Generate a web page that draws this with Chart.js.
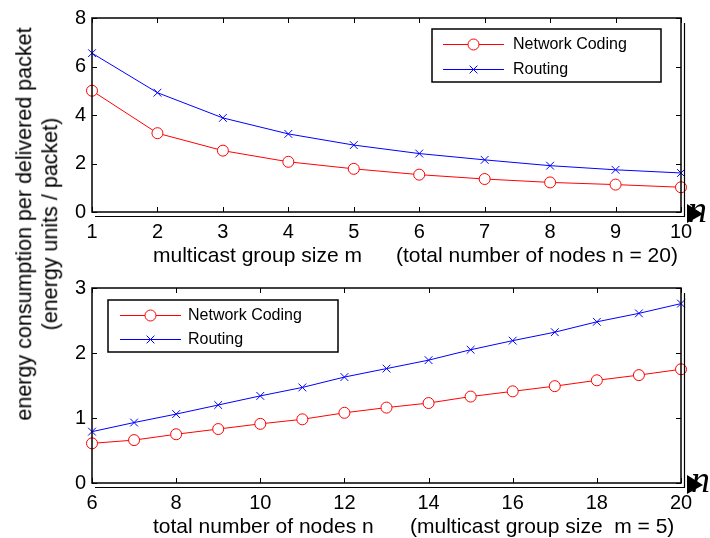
<!DOCTYPE html>
<html>
<head>
<meta charset="utf-8">
<script src="https://cdn.jsdelivr.net/npm/chart.js@4/dist/chart.umd.min.js"></script>
<style>
  html, body { margin: 0; padding: 0; background: #fff; }
  body { width: 710px; height: 538px; position: relative; overflow: hidden;
         font-family: "Liberation Sans", Arial, Helvetica, sans-serif; color: #000; }
  canvas { position: absolute; left: 0; }
  #c1 { top: 0; }
  #c2 { top: 270px; }
  .t { position: absolute; font-size: 21px; white-space: nowrap; line-height: 1; }
  .ylab { position: absolute; font-size: 21.5px; white-space: nowrap; text-align: center; line-height: 1.2;
          left: 38px; top: 224px; transform: translate(-50%, -50%) rotate(-90deg); }
  .nn { position: absolute; font-family: "Liberation Serif", "DejaVu Serif", serif; font-style: italic;
        font-size: 38px; line-height: 1; }
</style>
</head>
<body>
<canvas id="c1" width="710" height="270"></canvas>
<canvas id="c2" width="710" height="268"></canvas>

<div class="ylab">energy consumption per delivered packet<br>(energy units / packet)</div>
<div class="t" style="left:153px; top:244px;">multicast group size m</div>
<div class="t" style="left:396px; top:244px;">(total number of nodes n = 20)</div>
<div class="t" style="left:153px; top:515px;">total number of nodes n</div>
<div class="t" style="left:410px; top:515px;">(multicast group size&nbsp; m = 5)</div>
<div class="nn" style="left:688px; top:190px;">n</div>
<div class="nn" style="left:691px; top:460px;">n</div>

<script>
// ---- data: top plot (vs multicast group size m, n = 20)
const groupSizes = [1, 2, 3, 4, 5, 6, 7, 8, 9, 10];
const ncVsM      = [5.0, 3.25, 2.53, 2.07, 1.78, 1.54, 1.36, 1.22, 1.13, 1.02];
const routVsM    = [6.55, 4.92, 3.88, 3.22, 2.76, 2.41, 2.15, 1.91, 1.74, 1.61];
const yTicksTop  = [0, 2, 4, 6, 8];

// ---- data: bottom plot (vs total number of nodes n, m = 5)
const nodeCounts = [6, 7, 8, 9, 10, 11, 12, 13, 14, 15, 16, 17, 18, 19, 20];
const ncVsN      = [0.61, 0.66, 0.75, 0.83, 0.91, 0.98, 1.08, 1.16, 1.23, 1.33, 1.41, 1.49, 1.58, 1.66, 1.75];
const routVsN    = [0.79, 0.93, 1.06, 1.20, 1.34, 1.47, 1.63, 1.76, 1.89, 2.05, 2.19, 2.32, 2.48, 2.61, 2.76];
const yTicksBot  = [0, 1, 2, 3];

const seriesNames = ['Network Coding', 'Routing'];

const RED = '#ff0000', BLUE = '#0000ff';
const FONT = '"Liberation Sans", Arial, Helvetica, sans-serif';

function pts(xs, ys) { return xs.map((x, i) => ({ x: x, y: ys[i] })); }

function makeDatasets(xs, nc, rt) {
  return [
    { label: seriesNames[0], data: pts(xs, nc), borderColor: RED, backgroundColor: RED,
      borderWidth: 1, pointStyle: 'circle', pointRadius: 5.5, pointBorderWidth: 1,
      pointBackgroundColor: '#fff', pointBorderColor: RED, tension: 0, clip: false },
    { label: seriesNames[1], data: pts(xs, rt), borderColor: BLUE, backgroundColor: BLUE,
      borderWidth: 1, pointStyle: 'crossRot', pointRadius: 5.5, pointBorderWidth: 1,
      pointBackgroundColor: BLUE, pointBorderColor: BLUE, tension: 0, clip: false }
  ];
}

// frame, inward ticks and the extra decoration lines / arrow
const framePlugin = {
  id: 'frame',
  afterDraw(chart) {
    const ctx = chart.ctx, a = chart.chartArea;
    const xs = chart.scales.x, ys = chart.scales.y;
    ctx.save();
    ctx.strokeStyle = '#000';
    ctx.lineWidth = 1.5;
    ctx.strokeRect(a.left, a.top, a.right - a.left, a.bottom - a.top);
    ctx.lineWidth = 1;
    const L = 5;
    ctx.beginPath();
    xs.ticks.forEach(t => {
      const px = Math.round(xs.getPixelForValue(t.value)) + 0.5;
      ctx.moveTo(px, a.bottom); ctx.lineTo(px, a.bottom - L);
      ctx.moveTo(px, a.top); ctx.lineTo(px, a.top + L);
    });
    ys.ticks.forEach(t => {
      const py = Math.round(ys.getPixelForValue(t.value)) + 0.5;
      ctx.moveTo(a.left, py); ctx.lineTo(a.left + L, py);
      ctx.moveTo(a.right, py); ctx.lineTo(a.right - L, py);
    });
    ctx.stroke();
    // second (offset) lines
    ctx.lineWidth = 1.2;
    ctx.beginPath();
    ctx.moveTo(a.left + 3, a.bottom + 4.5); ctx.lineTo(a.right + 4, a.bottom + 4.5);
    ctx.moveTo(a.right + 3.5, a.top + 5); ctx.lineTo(a.right + 3.5, a.bottom + 4.5);
    ctx.stroke();
    // arrow head
    ctx.fillStyle = '#000';
    ctx.beginPath();
    ctx.moveTo(a.right + 6, a.bottom - 8);
    ctx.lineTo(a.right + 22, a.bottom + 2);
    ctx.lineTo(a.right + 6, a.bottom + 11);
    ctx.closePath();
    ctx.fill();
    ctx.restore();
  }
};

// boxed legend with line + marker samples
const boxLegendPlugin = {
  id: 'boxLegend',
  afterDraw(chart, args, o) {
    if (!o || !o.box) return;
    const ctx = chart.ctx, b = o.box;
    ctx.save();
    ctx.fillStyle = '#fff';
    ctx.fillRect(b.left, b.top, b.width, b.height);
    ctx.strokeStyle = '#000';
    ctx.lineWidth = 1.5;
    ctx.strokeRect(b.left, b.top, b.width, b.height);
    chart.data.datasets.forEach((ds, i) => {
      const y = b.rows[i];
      const col = ds.borderColor;
      ctx.strokeStyle = col;
      ctx.lineWidth = 1;
      ctx.beginPath();
      ctx.moveTo(b.sx0, y + 0.5); ctx.lineTo(b.sx1, y + 0.5);
      ctx.stroke();
      ctx.fillStyle = ds.pointStyle === 'circle' ? '#fff' : col;
      ctx.strokeStyle = col;
      ctx.lineWidth = 1;
      Chart.helpers.drawPoint(ctx, { pointStyle: ds.pointStyle, radius: ds.pointRadius,
        rotation: 0, borderWidth: 1 }, (b.sx0 + b.sx1) / 2, y + 0.5);
      ctx.fillStyle = '#000';
      ctx.font = '16px ' + FONT;
      ctx.textBaseline = 'middle';
      ctx.textAlign = 'left';
      ctx.fillText(ds.label, b.tx, y + 1);
    });
    ctx.restore();
  }
};

function makeChart(id, xs, nc, rt, xmin, xmax, xstep, yTicks, padTop, xAxisH, legendBox) {
  return new Chart(document.getElementById(id), {
    type: 'line',
    data: { datasets: makeDatasets(xs, nc, rt) },
    options: {
      responsive: false,
      animation: false,
      devicePixelRatio: 1,
      layout: { padding: { left: 0, right: 29, top: padTop, bottom: 0 } },
      plugins: { legend: { display: false }, tooltip: { enabled: false },
                 boxLegend: { box: legendBox } },
      scales: {
        x: {
          type: 'linear', min: xmin, max: xmax,
          grid: { display: false, drawTicks: false }, border: { display: false },
          ticks: { stepSize: xstep, color: '#000', padding: 8, maxRotation: 0,
                   font: { family: FONT, size: 20 } },
          afterFit(s) { s.height = xAxisH; }
        },
        y: {
          type: 'linear', min: yTicks[0], max: yTicks[yTicks.length - 1],
          grid: { display: false, drawTicks: false }, border: { display: false },
          afterBuildTicks(s) { s.ticks = yTicks.map(v => ({ value: v })); },
          ticks: { color: '#000', padding: 6, font: { family: FONT, size: 20 } },
          afterFit(s) { s.width = 92; }
        }
      }
    },
    plugins: [framePlugin, boxLegendPlugin]
  });
}

makeChart('c1', groupSizes, ncVsM, routVsM, 1, 10, 1, yTicksTop, 15, 58,
  { left: 432, top: 29, width: 229, height: 53, sx0: 443, sx1: 504, tx: 513, rows: [44, 69] });
makeChart('c2', nodeCounts, ncVsN, routVsN, 6, 20, 2, yTicksBot, 17, 55,
  { left: 108, top: 30, width: 230, height: 52, sx0: 120, sx1: 181, tx: 188, rows: [45, 69] });
</script>
</body>
</html>
